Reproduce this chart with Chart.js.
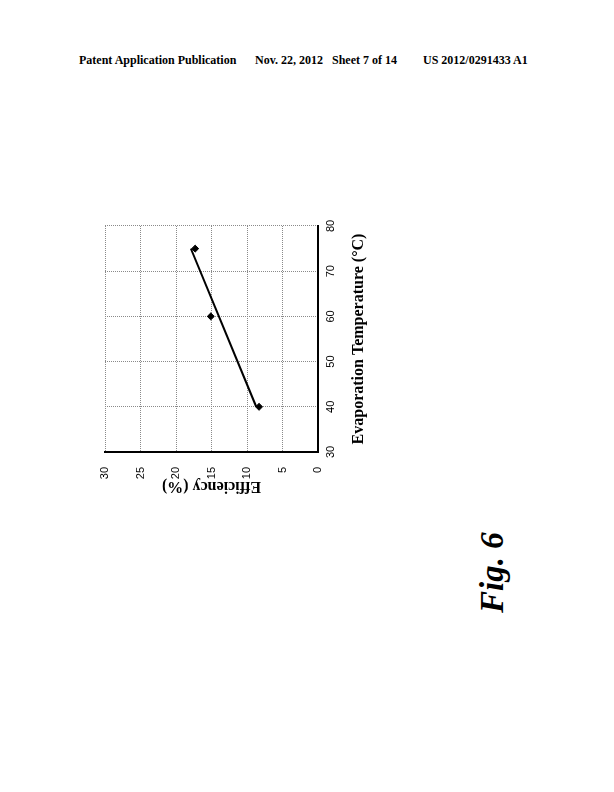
<!DOCTYPE html>
<html>
<head>
<meta charset="utf-8">
<script src="https://cdn.jsdelivr.net/npm/chart.js@4"></script>
<style>
  body { margin: 0; width: 614px; height: 792px; background: #fff; position: relative; overflow: hidden; }
  .hdr { position: absolute; top: 53px; font: bold 12px "Liberation Serif", serif; color: #000; white-space: nowrap; }
  #chartBox { position: absolute; left: 80px; top: 205px; width: 290px; height: 300px; transform: rotate(-90deg); transform-origin: 50% 50%; }
  #fig { position: absolute; left: 452px; top: 551px; width: 80px; font: italic bold 33px "Liberation Serif", serif; transform: rotate(-90deg); transform-origin: 50% 50%; white-space: nowrap; line-height: 44px; text-align: center; }
</style>
</head>
<body>
<div class="hdr" style="left:79px">Patent Application Publication</div>
<div class="hdr" style="left:255px">Nov. 22, 2012&nbsp;&nbsp;&nbsp;Sheet 7 of 14</div>
<div class="hdr" style="left:423px">US 2012/0291433 A1</div>

<div id="chartBox"><canvas id="fig6" width="290" height="300"></canvas></div>
<div id="fig">Fig. 6</div>

<script>
// measured points
const temps = [40, 60, 75];
const efficiency = [8.3, 15.1, 17.3];
// linear trend line ends
const trendTemps = [40, 75];
const trendEff = [8.7, 17.9];

const tempTicks = { min: 30, max: 80, step: 10 };
const effTicks = { min: 0, max: 30, step: 5 };

const tickFont = { family: 'Liberation Sans', size: 11 };
const titleFont = { family: 'Liberation Serif', size: 16, weight: 'bold' };

const ctx = document.getElementById('fig6').getContext('2d');
new Chart(ctx, {
  type: 'scatter',
  data: {
    datasets: [
      {
        data: temps.map((t, i) => ({ x: t, y: efficiency[i] })),
        pointStyle: 'rectRot',
        pointRadius: 3.5,
        backgroundColor: '#000',
        borderColor: '#000',
        showLine: false
      },
      {
        data: trendTemps.map((t, i) => ({ x: t, y: trendEff[i] })),
        borderColor: '#000',
        borderWidth: 2,
        pointRadius: 0,
        showLine: true
      }
    ]
  },
  options: {
    responsive: false,
    animation: false,
    devicePixelRatio: 1,
    layout: { padding: { top: 30, right: 16, left: 0, bottom: 0 } },
    plugins: { legend: { display: false }, tooltip: { enabled: false } },
    scales: {
      x: {
        type: 'linear',
        min: tempTicks.min,
        max: tempTicks.max,
        afterFit: scale => { scale.height = 57; },
        ticks: { stepSize: tempTicks.step, font: tickFont, color: '#000', padding: 6, maxRotation: 0 },
        grid: { color: '#8a8a8a', lineWidth: 1, drawTicks: false },
        border: { display: true, color: '#000', width: 2, dash: [1, 1] },
        title: { display: true, text: 'Evaporation Temperature (°C)', font: titleFont, color: '#000', padding: { top: 0, bottom: 7 } }
      },
      y: {
        min: effTicks.min,
        max: effTicks.max,
        afterFit: scale => { scale.width = 48; },
        ticks: { stepSize: effTicks.step, font: tickFont, color: '#000', padding: 15 },
        grid: { color: '#8a8a8a', lineWidth: 1, drawTicks: false },
        border: { display: true, color: '#000', width: 2, dash: [1, 1] },
        title: { display: true, text: 'Efficiency (%)', font: titleFont, color: '#000', padding: { top: 4, bottom: 0 } }
      }
    }
  }
});
</script>
</body>
</html>
